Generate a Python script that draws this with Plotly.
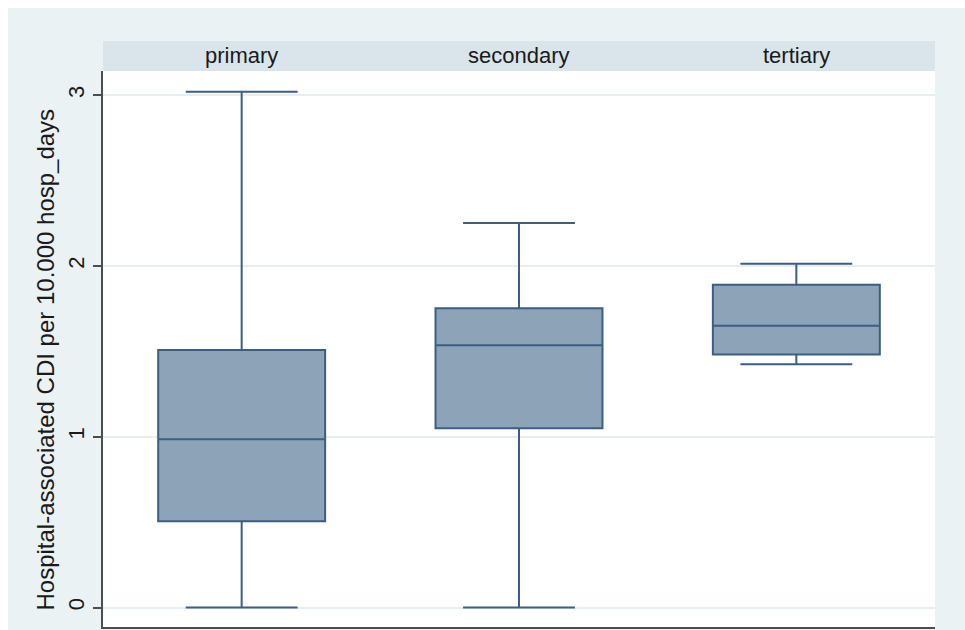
import plotly.graph_objects as go

# ---- data ----
categories = ["primary", "secondary", "tertiary"]
lower_whisker = [0.0, 0.0, 1.424]
q1_values = [0.505, 1.049, 1.482]
median_values = [0.985, 1.535, 1.650]
q3_values = [1.508, 1.752, 1.890]
upper_whisker = [3.02, 2.251, 2.013]
y_ticks = [0, 1, 2, 3]
y_title = "Hospital-associated CDI per 10.000 hosp_days"

# ---- geometry (pixels) ----
W, H = 965, 630
L, R, T, B = 103, 30, 71, 3
PW, PH = W - L - R, H - T - B


def px_x(px):
    return (px - L) / PW


def px_y(py):
    return (H - B - py) / PH


BG = "#EAF2F3"
STRIP = "#D9E5EB"
FILL = "#8DA3B8"
LINE = "#3B5E82"
FONT = "Liberation Sans, Arial, sans-serif"

fig = go.Figure()
fig.add_trace(go.Box(
    x=categories,
    q1=q1_values,
    median=median_values,
    q3=q3_values,
    lowerfence=lower_whisker,
    upperfence=upper_whisker,
    fillcolor=FILL,
    line=dict(color=LINE, width=2),
    whiskerwidth=0.67,
    boxpoints=False,
    hoverinfo="skip",
    showlegend=False,
))

shapes = [
    # white border at the top and left of the outer background
    dict(type="rect", xref="paper", yref="paper", x0=px_x(-5), x1=px_x(W + 5),
         y0=px_y(8), y1=px_y(-5), fillcolor="white", line=dict(width=0), layer="below"),
    dict(type="rect", xref="paper", yref="paper", x0=px_x(-5), x1=px_x(8),
         y0=px_y(H + 5), y1=px_y(-5), fillcolor="white", line=dict(width=0), layer="below"),
    # header strip
    dict(type="rect", xref="paper", yref="paper", x0=0, x1=1,
         y0=1, y1=px_y(41), fillcolor=STRIP, line=dict(width=0), layer="below"),
]

annotations = [
    dict(x=c, xref="x", y=px_y(56), yref="paper", text=c, showarrow=False,
         xanchor="center", yanchor="middle",
         font=dict(family=FONT, size=22, color="#1a1a1a"))
    for c in categories
]
annotations.append(dict(
    x=px_x(45), xref="paper", y=px_y(359.5), yref="paper", text=y_title,
    textangle=-90, showarrow=False, xanchor="center", yanchor="middle",
    font=dict(family=FONT, size=24, color="#1a1a1a")))

fig.update_layout(
    width=W, height=H,
    margin=dict(l=L, r=R, t=T, b=B, pad=0),
    paper_bgcolor=BG,
    plot_bgcolor="white",
    shapes=shapes,
    annotations=annotations,
    boxgap=0.398,
    boxgroupgap=0,
    font=dict(family=FONT, color="#1a1a1a"),
    xaxis=dict(
        type="category", range=[-0.5, 2.5], showticklabels=False, ticks="",
        showgrid=False, showline=True, linecolor="#4d4d4d", linewidth=1.5,
        zeroline=False, fixedrange=True,
    ),
    yaxis=dict(
        range=[-0.114, 3.141], tickvals=y_ticks, ticktext=[str(v) for v in y_ticks],
        tickangle=-90, ticks="outside", ticklen=8, tickwidth=1.5, tickcolor="#4d4d4d",
        showline=True, linecolor="#4d4d4d", linewidth=1.5,
        showgrid=True, gridcolor="#E6EEF1", gridwidth=1.5, zeroline=False,
        tickfont=dict(family=FONT, size=22, color="#1a1a1a"),
        ticklabelstandoff=0,
        fixedrange=True,
    ),
)

fig.write_html("out.html")
